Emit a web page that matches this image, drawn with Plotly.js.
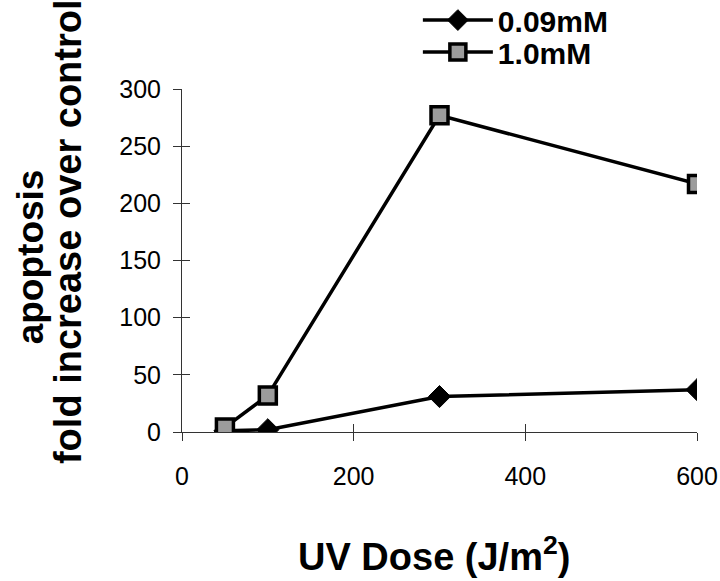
<!DOCTYPE html>
<html><head><meta charset="utf-8">
<script src="https://cdn.plot.ly/plotly-3.0.1.min.js"></script>
<style>body{margin:0;background:#fff}</style>
</head><body>
<div id="chart" style="width:720px;height:581px"></div>
<script>
const doses = [50, 100, 300, 600];
const low = [1, 2, 31, 37];
const high = [4, 32, 277, 217];
const seriesNames = ['0.09mM', '1.0mM'];
const yTicks = [0, 50, 100, 150, 200, 250, 300];
const xTicks = [0, 200, 400, 600];

const legFont = {size: 30, family: 'Liberation Sans, Arial, sans-serif', color: '#000', weight: 'bold'};

const traces = [
  {x: doses, y: low, name: seriesNames[0], mode: 'lines+markers', type: 'scatter', legend: 'legend',
   line: {color: '#000', width: 3.5},
   marker: {symbol: 'diamond', size: 17, color: '#000', line: {color: '#000', width: 1}}},
  {x: doses, y: high, name: seriesNames[1], mode: 'lines+markers', type: 'scatter', legend: 'legend2',
   line: {color: '#000', width: 3.5},
   marker: {symbol: 'square', size: 17, color: '#9c9c9c', line: {color: '#000', width: 3.5}}},
  // empty helper trace that carries the overlay axes used to draw the inner half of each tick
  {x: [], y: [], xaxis: 'x2', yaxis: 'y2', showlegend: false, hoverinfo: 'skip', type: 'scatter', mode: 'markers'}
];

const layout = {
  width: 720, height: 581,
  margin: {l: 182, r: 23, t: 89, b: 149, autoexpand: false},
  paper_bgcolor: '#fff', plot_bgcolor: '#fff',
  font: {family: 'Liberation Sans, Arial, sans-serif', color: '#000'},
  showlegend: true,
  legend: {x: 0.458, y: 1.201, xanchor: 'left', yanchor: 'middle', bgcolor: 'rgba(0,0,0,0)',
           font: legFont, itemwidth: 70},
  legend2: {x: 0.458, y: 1.108, xanchor: 'left', yanchor: 'middle', bgcolor: 'rgba(0,0,0,0)',
           font: legFont, itemwidth: 70},
  xaxis: {range: [0, 600], tickvals: xTicks, showgrid: false, zeroline: false,
          showline: true, linecolor: '#333', linewidth: 1, ticks: 'outside', ticklen: 8, tickcolor: '#333',
          tickfont: {size: 25}, ticklabelstandoff: 14},
  yaxis: {range: [0, 300], tickvals: yTicks, showgrid: false, zeroline: false,
          showline: true, linecolor: '#333', linewidth: 1, ticks: 'outside', ticklen: 8, tickcolor: '#333',
          tickfont: {size: 25}, ticklabelstandoff: 7},
  xaxis2: {range: [0, 600], tickvals: xTicks, overlaying: 'x', anchor: 'y2', side: 'bottom',
           showgrid: false, zeroline: false, showline: false, showticklabels: false,
           ticks: 'inside', ticklen: 8, tickcolor: '#333'},
  yaxis2: {range: [0, 300], tickvals: yTicks, overlaying: 'y', anchor: 'x2', side: 'left',
           showgrid: false, zeroline: false, showline: false, showticklabels: false,
           ticks: 'inside', ticklen: 8, tickcolor: '#333'},
  annotations: [
    {text: '<b>apoptosis</b>', xref: 'paper', yref: 'paper', x: -0.294, y: 0.511, textangle: -90,
     showarrow: false, font: {size: 37}, xanchor: 'center', yanchor: 'middle'},
    {text: '<b>fold increase over control</b>', xref: 'paper', yref: 'paper', x: -0.22, y: 0.585, textangle: -90,
     showarrow: false, font: {size: 38}, xanchor: 'center', yanchor: 'middle'},
    {text: '<b>UV Dose (J/m<sup>2</sup>)</b>', xref: 'paper', yref: 'paper', x: 0.49, y: -0.355,
     showarrow: false, font: {size: 38}, xanchor: 'center', yanchor: 'middle'}
  ]
};
Plotly.newPlot('chart', traces, layout, {displayModeBar: false});
</script>
</body></html>
